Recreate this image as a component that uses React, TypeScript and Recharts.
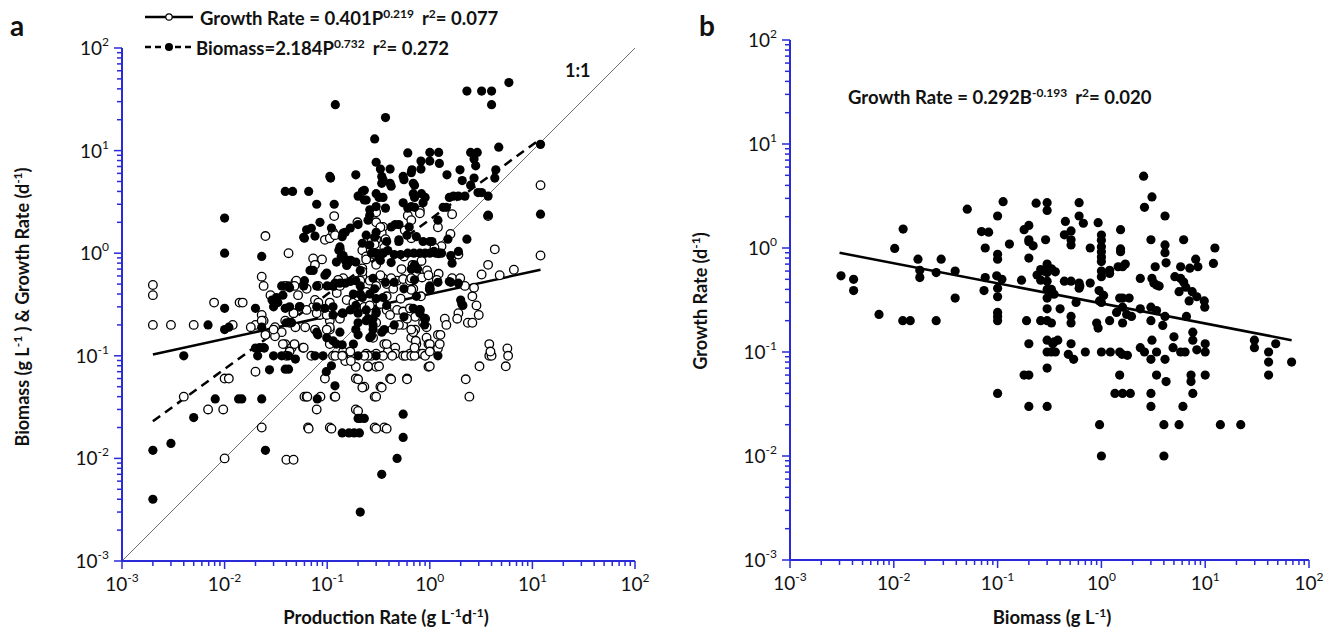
import { ScatterChart, Scatter, XAxis, YAxis, ReferenceLine } from 'recharts';

const BLUE = '#2a2ad8';
const FONT = 'Lato, "Open Sans", sans-serif';

// log axis ticks: decades plus 2..9 minor marks
const MAJOR_TICKS = [0.001, 0.01, 0.1, 1, 10, 100];
const MINOR_STEPS = [2, 3, 4, 5, 6, 7, 8, 9];
const LOG_TICKS = [
  ...MAJOR_TICKS,
  ...MAJOR_TICKS.slice(0, -1).flatMap((d) => MINOR_STEPS.map((m) => +(m * d).toPrecision(3))),
];

// panel a, open circles: growth rate (d-1) vs production rate
const growthA: [number, number][] = [
  [0.002, 0.49], [0.002, 0.39], [0.002, 0.2], [0.003, 0.2], [0.005, 0.2], [0.0079, 0.33], [0.014, 0.33], [0.015, 0.33],
  [0.025, 1.47], [0.042, 1.0], [0.023, 0.59], [0.024, 0.48], [0.028, 0.39], [0.039, 0.48], [0.049, 0.52],
  [0.117, 2.3], [0.197, 2.0], [0.073, 0.89], [0.089, 0.87], [0.076, 0.77], [0.16, 0.81],
  [0.023, 0.25], [0.024, 0.22], [0.02, 0.2], [0.031, 0.19], [0.036, 0.17], [0.031, 0.155], [0.039, 0.13], [0.045, 0.12], [0.058, 0.12],
  [0.052, 0.39], [0.054, 0.3], [0.073, 0.3], [0.076, 0.35], [0.106, 0.33], [0.124, 0.41], [0.085, 0.25], [0.106, 0.22],
  [0.106, 0.18], [0.133, 0.23], [0.047, 0.26], [0.039, 0.22],
  [0.05, 0.54], [0.048, 0.48], [0.063, 0.45], [0.082, 0.48], [0.095, 1.35], [0.106, 1.4], [0.133, 1.07],
  [0.3, 2.0], [0.35, 1.8], [0.34, 1.57], [0.3, 1.35], [0.27, 1.3], [0.57, 1.67], [0.66, 1.4], [0.8, 2.6],
  [0.22, 1.07], [0.24, 0.93], [0.28, 0.98], [0.143, 0.57], [0.128, 0.55], [0.116, 0.48], [0.133, 0.48], [0.22, 0.71],
  [0.22, 0.59], [0.21, 0.54], [0.26, 0.54], [0.3, 0.48], [0.35, 0.57], [0.38, 0.5], [0.38, 0.38], [0.44, 0.45],
  [0.48, 0.54], [0.55, 0.56], [0.64, 0.54], [0.69, 0.45], [0.74, 0.63], [0.94, 0.68], [0.84, 0.58],
  [0.155, 0.35], [0.18, 0.33], [0.23, 0.3], [0.19, 0.29], [0.26, 0.26], [0.33, 0.32], [0.38, 0.28], [0.41, 0.25],
  [0.48, 0.28], [0.55, 0.27], [0.64, 0.29], [0.8, 0.28], [0.72, 0.24], [0.86, 0.21], [0.55, 0.2], [0.72, 0.18],
  [0.66, 0.15], [0.93, 0.15], [0.36, 0.13], [0.46, 0.12], [0.39, 0.11],
  [0.012, 0.2], [0.018, 0.19], [0.023, 0.22], [0.03, 0.18], [0.025, 0.16], [0.043, 0.21], [0.047, 0.26],
  [0.063, 0.28], [0.082, 0.33], [0.079, 0.26], [0.099, 0.25], [0.106, 0.19], [0.099, 0.18], [0.076, 0.18],
  [0.037, 0.13], [0.048, 0.13], [0.106, 0.13], [0.114, 1.6], [0.119, 1.5],
  [0.049, 0.19], [0.061, 0.19], [0.043, 0.11], [0.04, 0.1], [0.059, 0.12], [0.02, 0.07], [0.01, 0.06], [0.011, 0.06],
  [0.0069, 0.03], [0.0097, 0.03], [0.004, 0.04], [0.023, 0.02], [0.06, 0.04], [0.063, 0.04], [0.118, 0.04], [0.079, 0.03],
  [0.065, 0.02], [0.106, 0.02], [0.19, 0.03], [0.29, 0.02], [0.36, 0.02], [0.095, 0.06], [0.143, 0.11], [0.168, 0.11],
  [0.143, 0.1], [0.114, 0.1], [0.19, 0.06], [0.23, 0.05], [0.29, 0.04], [0.33, 0.05], [0.41, 0.06], [0.6, 0.06],
  [0.19, 0.078], [0.25, 0.078], [0.3, 0.078], [0.38, 0.13], [0.46, 0.105], [0.3, 0.105], [0.24, 0.105], [0.27, 0.1],
  [0.55, 0.1], [0.64, 0.105], [0.8, 0.105], [0.97, 0.078], [0.97, 0.13], [0.69, 0.17], [0.6, 0.23], [0.74, 0.13],
  [1.2, 0.16], [1.4, 0.23], [0.9, 0.23],
  [0.01, 0.01], [0.04, 0.0097], [0.047, 0.0097], [0.064, 0.04], [0.086, 0.04], [0.066, 0.0195], [0.11, 0.0195],
  [0.12, 0.04], [0.2, 0.059], [0.22, 0.049], [0.2, 0.029], [0.3, 0.04], [0.34, 0.049], [0.3, 0.0195], [0.38, 0.0195],
  [0.25, 0.079], [0.32, 0.079], [0.42, 0.059], [0.6, 0.059], [0.15, 0.089], [0.17, 0.089],
  [1.0, 0.079], [3.05, 0.079], [5.5, 0.079], [2.24, 0.059], [2.43, 0.04], [3.8, 0.13], [3.8, 0.1], [4.0, 0.1], [5.7, 0.118],
  [1.27, 0.16], [1.2, 0.118], [1.0, 0.13], [0.73, 0.14], [0.85, 0.105], [0.9, 0.1], [0.58, 0.1], [0.66, 0.1], [0.71, 0.1],
  [0.43, 0.1], [0.35, 0.1], [0.25, 0.1], [0.23, 0.1], [0.12, 0.1], [0.14, 0.1], [0.07, 0.1],
  [12, 4.6], [12, 0.95], [3.7, 2.3], [4.3, 1.09], [3.7, 0.77], [3.2, 0.62], [4.8, 0.61], [6.6, 0.69], [1.65, 2.4],
  [1.2, 1.79], [1.59, 1.54], [0.61, 2.33], [0.66, 2.1], [0.8, 2.45], [0.3, 2.5], [0.33, 1.79], [0.37, 1.37], [0.29, 1.22],
  [0.36, 1.13], [1.3, 1.17], [1.64, 0.93], [1.9, 0.97], [0.56, 0.93], [0.68, 0.77], [0.53, 0.7], [0.83, 0.84], [0.97, 0.61],
  [1.22, 0.63], [1.65, 0.57], [1.98, 0.57], [2.2, 0.48], [2.7, 0.46], [2.6, 0.38], [2.85, 0.31], [3.0, 0.25], [1.9, 0.26],
  [1.85, 0.23], [2.35, 0.21], [2.6, 0.21], [3.9, 0.11], [5.8, 0.1], [1.45, 0.2], [1.25, 0.13], [1.0, 0.11], [0.71, 0.12],
  [0.93, 0.19], [0.66, 0.18], [0.5, 0.2], [0.43, 0.18], [0.3, 0.21], [0.28, 0.15], [0.26, 0.31], [0.2, 0.38], [0.24, 0.42],
  [0.52, 0.36], [0.66, 0.44], [0.82, 0.38], [1.0, 0.45], [1.17, 0.55], [0.42, 0.57], [0.66, 0.57], [0.33, 0.61],
  [0.3, 0.77], [0.24, 0.87], [0.22, 0.66], [1.22, 1.0], [1.11, 1.13],
];

// panel a, filled circles: biomass (g L-1) vs production rate
const biomassA: [number, number][] = [
  [0.12, 28], [0.37, 21], [2.3, 38], [3.2, 38], [4.0, 38], [4.0, 28], [5.9, 46],
  [0.29, 13], [0.61, 9.5], [1.0, 9.6], [1.22, 9.6], [2.5, 9.6], [2.9, 9.6], [4.7, 10.8],
  [0.3, 7.7], [0.82, 7.9], [1.0, 7.9], [1.24, 7.5], [2.7, 8.3], [2.8, 7.1],
  [0.33, 6.6], [0.41, 6.6], [0.67, 6.5], [0.82, 6.6], [1.47, 5.8], [1.97, 6.5], [2.07, 5.1], [2.7, 5.4], [4.4, 6.5],
  [4.3, 5.4], [12, 11.5], [0.35, 5.2], [0.42, 4.5], [0.56, 5.2], [0.71, 4.6], [2.5, 4.6], [2.95, 3.9], [3.2, 3.9], [3.7, 3.6],
  [0.22, 4.0], [0.23, 3.3], [0.32, 3.5], [0.37, 2.75], [0.71, 3.5], [0.9, 3.5], [1.7, 3.6], [1.9, 3.6], [2.2, 3.6], [1.55, 3.5],
  [1.35, 2.8], [1.45, 2.8], [1.2, 2.1], [3.7, 2.35], [0.71, 2.8], [0.61, 2.75], [0.26, 2.35], [0.25, 2.1],
  [0.5, 1.9], [0.42, 1.8], [0.63, 1.8], [0.29, 1.43], [0.38, 1.3], [0.5, 1.3], [1.0, 1.3], [1.05, 1.3], [1.5, 1.37], [2.3, 1.37],
  [0.61, 1.0], [0.7, 1.0], [0.8, 1.0], [0.9, 1.0], [1.0, 1.0], [1.15, 1.0], [1.3, 1.0], [1.6, 0.95],
  [0.27, 1.0], [0.3, 1.0], [0.35, 1.0], [0.45, 0.97], [0.52, 0.97], [0.42, 0.81], [0.71, 0.77],
  [0.37, 0.52], [0.45, 0.52], [0.28, 0.57], [0.76, 0.7], [1.0, 0.48], [1.2, 0.52], [1.6, 0.52], [2.05, 0.32], [2.0, 0.35],
  [0.69, 0.29], [0.8, 0.28], [0.56, 0.24], [0.2, 0.26], [0.24, 0.22], [0.28, 0.2], [0.28, 0.18], [0.34, 0.17], [12, 2.4],
  [0.108, 5.4], [0.19, 5.8], [0.039, 4], [0.046, 4], [0.066, 4], [0.01, 2.2], [0.01, 1.0], [0.079, 3.0], [0.117, 3.0],
  [0.085, 2.0], [0.11, 1.76], [0.076, 1.47], [0.059, 1.43], [0.063, 1.69], [0.143, 1.57], [0.168, 1.76], [0.2, 1.9],
  [0.133, 1.15], [0.143, 0.95], [0.16, 0.85], [0.023, 0.93], [0.073, 0.68], [0.099, 0.64],
  [0.036, 0.48], [0.042, 0.48], [0.059, 0.48], [0.079, 0.48], [0.1, 0.48], [0.114, 0.48], [0.168, 0.53],
  [0.01, 0.29], [0.02, 0.29], [0.03, 0.3], [0.033, 0.33], [0.039, 0.29], [0.079, 0.3], [0.095, 0.29], [0.114, 0.3],
  [0.14, 0.26], [0.114, 0.25], [0.0069, 0.2], [0.01, 0.18], [0.011, 0.19], [0.023, 0.19], [0.04, 0.21], [0.045, 0.21],
  [0.079, 0.17], [0.114, 0.14], [0.133, 0.17], [0.19, 0.18], [0.022, 0.12], [0.024, 0.12],
  [0.106, 5.6], [0.34, 5.6], [0.55, 5.6], [0.66, 6.1], [0.34, 4.8], [0.41, 4.8], [0.69, 4.8],
  [0.2, 3.6], [0.23, 4.1], [0.3, 3.8], [0.35, 3.5], [0.69, 3.8], [0.83, 3.8], [0.24, 3.3], [0.26, 2.65], [0.3, 2.85],
  [0.55, 3.1], [0.66, 2.85], [0.86, 3.1], [0.07, 1.75], [0.06, 1.4], [0.15, 1.6], [0.14, 1.45],
  [0.3, 1.6], [0.24, 1.5], [0.22, 1.25], [0.26, 1.2], [0.31, 0.99], [0.33, 0.85], [0.35, 1.0], [0.39, 1.06],
  [0.46, 1.9], [0.6, 1.5], [0.5, 1.35], [0.74, 1.45], [0.86, 1.3],
  [0.123, 0.82], [0.137, 0.93], [0.15, 0.85], [0.17, 0.85], [0.19, 0.82], [0.21, 0.68], [0.155, 0.76], [0.13, 1.07],
  [0.068, 0.68], [0.095, 0.61], [0.119, 0.51], [0.133, 0.51], [0.15, 0.51], [0.19, 0.54], [0.21, 0.48], [0.18, 0.4],
  [0.21, 0.4], [0.22, 0.37], [0.26, 0.4], [0.29, 0.45], [0.3, 0.36], [0.35, 0.37], [0.38, 0.31],
  [0.043, 0.46], [0.037, 0.39], [0.032, 0.37], [0.029, 0.35], [0.06, 0.54], [0.054, 0.3], [0.043, 0.3],
  [0.099, 0.15], [0.123, 0.13], [0.143, 0.26], [0.168, 0.28], [0.19, 0.31], [0.24, 0.28], [0.28, 0.23], [0.3, 0.26], [0.18, 0.13],
  [0.004, 0.1], [0.002, 0.012], [0.002, 0.004], [0.003, 0.014], [0.005, 0.025], [0.0081, 0.038], [0.0137, 0.038],
  [0.0147, 0.038], [0.023, 0.038], [0.025, 0.012], [0.0274, 0.073], [0.02, 0.119], [0.0244, 0.119], [0.021, 0.1],
  [0.03, 0.1], [0.036, 0.1], [0.042, 0.1], [0.049, 0.093], [0.039, 0.074], [0.042, 0.074], [0.081, 0.16], [0.08, 0.038],
  [0.076, 0.1], [0.091, 0.1], [0.098, 0.07], [0.11, 0.08], [0.119, 0.051], [0.14, 0.128],
  [0.14, 0.0177], [0.163, 0.0177], [0.183, 0.0177], [0.206, 0.0177], [0.2, 0.0245], [0.21, 0.0245], [0.23, 0.0245],
  [0.21, 0.003], [0.2, 0.16], [0.2, 0.1], [0.27, 0.156], [0.3, 0.1], [0.34, 0.007], [0.48, 0.01], [0.55, 0.027],
  [0.55, 0.016], [1.2, 0.1],
  [1.65, 0.8], [1.9, 1.04], [1.55, 0.53], [1.9, 0.51], [1.1, 1.04], [0.66, 0.7], [0.71, 0.55], [0.56, 0.45], [0.74, 0.38],
  [1.0, 0.44], [0.8, 0.26], [0.89, 0.23], [0.89, 0.2], [0.3, 0.27], [0.25, 0.23], [0.2, 0.21], [0.36, 0.18], [0.45, 0.2],
  [0.26, 0.15], [2.1, 0.31],
];

// panel b: growth rate (d-1) vs biomass (g L-1)
const growthB: [number, number][] = [
  [0.0031, 0.54], [0.0041, 0.5], [0.0041, 0.39], [0.0072, 0.23], [0.0122, 0.2], [0.0144, 0.2], [0.0256, 0.2],
  [0.0102, 0.99], [0.0123, 1.52], [0.0171, 0.78], [0.0178, 0.61], [0.0178, 0.52], [0.0256, 0.58], [0.0286, 0.78],
  [0.039, 0.6], [0.039, 0.33], [0.051, 2.36], [0.07, 1.44], [0.082, 1.42], [0.076, 1.0], [0.074, 0.39], [0.076, 0.52],
  [0.1, 2.03], [0.113, 2.79], [0.1, 0.87], [0.1, 0.78], [0.098, 0.54], [0.11, 0.5], [0.1, 0.41], [0.1, 0.34],
  [0.1, 0.24], [0.1, 0.22], [0.1, 0.2], [0.1, 0.04], [0.13, 1.09], [0.17, 0.49], [0.18, 1.5], [0.2, 1.65], [0.2, 1.2],
  [0.2, 1.15], [0.22, 1.05], [0.2, 0.8], [0.235, 2.7], [0.3, 2.73], [0.3, 2.3], [0.29, 1.2],
  [0.24, 0.55], [0.26, 0.62], [0.3, 0.7], [0.3, 0.58], [0.33, 0.62], [0.26, 0.49], [0.3, 0.4], [0.33, 0.4], [0.3, 0.33],
  [0.3, 0.26], [0.19, 0.2], [0.26, 0.2], [0.3, 0.2], [0.33, 0.19], [0.2, 0.12], [0.3, 0.13], [0.3, 0.1], [0.33, 0.1],
  [0.35, 0.125], [0.3, 0.07], [0.18, 0.06], [0.2, 0.06], [0.2, 0.03], [0.3, 0.03],
  [0.61, 2.73], [0.61, 2.03], [0.67, 1.73], [0.45, 1.8], [0.51, 1.46], [0.44, 1.34], [0.51, 1.2], [0.51, 1.07],
  [0.78, 1.0], [0.93, 1.75], [1.0, 1.33], [1.0, 1.19], [1.0, 1.03], [1.0, 0.92], [1.0, 0.82], [1.0, 0.74], [1.0, 0.6],
  [1.0, 0.53], [1.2, 0.61], [1.2, 0.57], [1.53, 1.5], [1.53, 0.98], [1.53, 0.92], [1.45, 0.66], [1.6, 0.66], [1.7, 0.7],
  [2.37, 0.51], [2.55, 4.9], [3.07, 3.1], [2.6, 2.46], [4.1, 2.03], [3.0, 1.2], [4.1, 1.07], [4.1, 0.9], [4.2, 0.72],
  [6.2, 1.2], [12.4, 1.0], [12, 0.71], [8.1, 0.78], [8.5, 0.66], [7.1, 0.64], [5.8, 0.66], [3.07, 0.51], [3.2, 0.46],
  [3.4, 0.44], [3.6, 0.43], [3.3, 0.66], [5.1, 0.53], [5.8, 0.51], [6.2, 0.47], [6.5, 0.42], [5.6, 0.38], [7.5, 0.38],
  [7.0, 0.31], [8.3, 0.34], [9.8, 0.31], [9.9, 0.27], [2.37, 0.26], [3.0, 0.27], [3.4, 0.25], [4.1, 0.22], [3.9, 0.18],
  [3.0, 0.2], [6.6, 0.22], [1.6, 0.27], [1.75, 0.23], [1.95, 0.22], [1.5, 0.33], [1.6, 0.33], [1.85, 0.33], [1.4, 0.24],
  [1.2, 0.2], [1.6, 0.19], [0.95, 0.39], [1.05, 0.35], [1.0, 0.3], [0.96, 0.31], [0.78, 0.46], [0.61, 0.41], [0.57, 0.3],
  [0.51, 0.22], [0.51, 0.19], [0.4, 0.26], [0.28, 0.6], [0.33, 0.63], [0.36, 0.59], [0.3, 0.48], [0.35, 0.36],
  [0.44, 0.48], [0.51, 0.48], [0.61, 0.46], [0.62, 0.43], [0.9, 0.19], [0.93, 0.17],
  [0.34, 0.12], [0.38, 0.13], [0.36, 0.1], [0.51, 0.12], [0.48, 0.095], [0.54, 0.085], [0.7, 0.1], [1.0, 0.1],
  [1.22, 0.1], [1.5, 0.1], [1.58, 0.095], [1.78, 0.093], [2.37, 0.11], [2.6, 0.1], [3.07, 0.13], [3.4, 0.1], [3.0, 0.085],
  [4.1, 0.085], [5.0, 0.14], [4.9, 0.11], [5.8, 0.1], [6.4, 0.1], [7.6, 0.155], [7.6, 0.13], [8.3, 0.105], [10, 0.12],
  [10, 0.1], [1.5, 0.06], [3.4, 0.06], [4.2, 0.052], [7.3, 0.06], [7.3, 0.052], [10, 0.06], [1.35, 0.04], [1.6, 0.04],
  [1.9, 0.04], [3.0, 0.04], [7.6, 0.04], [3.0, 0.03], [6.1, 0.03], [0.96, 0.02], [4.0, 0.02], [5.6, 0.02], [14, 0.02],
  [22, 0.02], [1.0, 0.01], [4.0, 0.01], [29.8, 0.13], [29.8, 0.11], [47.8, 0.12], [40.8, 0.1], [40.8, 0.08],
  [40.8, 0.06], [68, 0.08],
];

// fitted lines, end points
const ONE_TO_ONE: [number, number][] = [[0.001, 0.001], [100, 100]];
const GROWTH_FIT_A: [number, number][] = [[0.002, 0.103], [12, 0.69]];
const BIOMASS_FIT_A: [number, number][] = [[0.002, 0.023], [12, 13]];
const GROWTH_FIT_B: [number, number][] = [[0.003, 0.9], [68, 0.13]];

const toPts = (arr: [number, number][]) => arr.map(([x, y]) => ({ x, y }));

const isMajor = (v: number) => {
  const l = Math.log10(v);
  return Math.abs(l - Math.round(l)) < 1e-6;
};

const XTick = (props: any) => {
  const { x, y, payload } = props;
  const v = payload.value;
  const major = isMajor(v);
  return (
    <g>
      <line x1={x} x2={x} y1={y} y2={y + (major ? 8 : 5)} stroke={BLUE} strokeWidth={1.5} />
      {major && (
        <text x={x} y={y + 30} textAnchor="middle" fontFamily={FONT} fontSize={19} fill="#111">
          10<tspan dy={-9} fontSize={12}>{Math.round(Math.log10(v))}</tspan>
        </text>
      )}
    </g>
  );
};

const YTick = (props: any) => {
  const { x, y, payload } = props;
  const v = payload.value;
  const major = isMajor(v);
  return (
    <g>
      <line x1={x - (major ? 8 : 5)} x2={x} y1={y} y2={y} stroke={BLUE} strokeWidth={1.5} />
      {major && (
        <text x={x - 13} y={y + 7} textAnchor="end" fontFamily={FONT} fontSize={19} fill="#111">
          10<tspan dy={-9} fontSize={12}>{Math.round(Math.log10(v))}</tspan>
        </text>
      )}
    </g>
  );
};

const Filled = (p: any) => <circle cx={p.cx} cy={p.cy} r={4.6} fill="#000" />;
const Open = (p: any) => <circle cx={p.cx} cy={p.cy} r={4.3} fill="#fff" stroke="#000" strokeWidth={1.3} />;

const axisProps = {
  type: 'number' as const,
  scale: 'log' as const,
  domain: [0.001, 100],
  allowDataOverflow: true,
  ticks: LOG_TICKS,
  interval: 0 as const,
  tickLine: false,
  tickSize: 0,
  tickMargin: 0,
  axisLine: { stroke: BLUE, strokeWidth: 2 },
};

const Sup = ({ children }: { children: string }) => (
  <tspan dy={-7} fontSize={12}>{children}</tspan>
);

export default function App() {
  return (
    <div style={{ position: 'absolute', left: 0, top: 0, width: 1338, height: 632, background: '#fff' }}>
      <div style={{ position: 'absolute', left: 0, top: 0 }}>
        <ScatterChart width={660} height={632} margin={{ top: 48, right: 25, bottom: 21, left: 62 }}>
          <XAxis {...axisProps} dataKey="x" height={50} tick={(p: any) => <XTick {...p} />} />
          <YAxis {...axisProps} dataKey="y" width={60} tick={(p: any) => <YTick {...p} />} />
          <ReferenceLine segment={toPts(ONE_TO_ONE)} stroke="#707070" strokeWidth={1} />
          <Scatter data={toPts(growthA)} shape={Open} isAnimationActive={false} />
          <Scatter data={toPts(biomassA)} shape={Filled} isAnimationActive={false} />
          <ReferenceLine segment={toPts(GROWTH_FIT_A)} stroke="#000" strokeWidth={2.5} />
          <ReferenceLine segment={toPts(BIOMASS_FIT_A)} stroke="#000" strokeWidth={2.5} strokeDasharray="9 6" />
        </ScatterChart>
      </div>
      <div style={{ position: 'absolute', left: 680, top: 0 }}>
        <ScatterChart width={658} height={632} margin={{ top: 40, right: 29, bottom: 22, left: 50 }}>
          <XAxis {...axisProps} dataKey="x" height={50} tick={(p: any) => <XTick {...p} />} />
          <YAxis {...axisProps} dataKey="y" width={60} tick={(p: any) => <YTick {...p} />} />
          <Scatter data={toPts(growthB)} shape={Filled} isAnimationActive={false} />
          <ReferenceLine segment={toPts(GROWTH_FIT_B)} stroke="#000" strokeWidth={2.5} />
        </ScatterChart>
      </div>
      <svg width={1338} height={632} style={{ position: 'absolute', left: 0, top: 0, pointerEvents: 'none' }}>
        <g fontFamily={FONT} fill="#111">
          <text x={10} y={36} fontSize={28} fontWeight={700}>a</text>
          <text x={699} y={36} fontSize={28} fontWeight={700}>b</text>

          <line x1={145} x2={193} y1={17} y2={17} stroke="#000" strokeWidth={2.5} />
          <circle cx={169} cy={17} r={3.2} fill="#fff" stroke="#000" strokeWidth={1.2} />
          <text x={200} y={25} fontSize={18.5} fontWeight={700}>
            Growth Rate = 0.401P<Sup>0.219</Sup>
            <tspan dy={7} dx={8}>r</tspan>
            <Sup>2</Sup>
            <tspan dy={7}>= 0.077</tspan>
          </text>

          <line x1={145} x2={193} y1={47} y2={47} stroke="#000" strokeWidth={2.5} strokeDasharray="6 4" />
          <circle cx={169} cy={47} r={4} fill="#000" />
          <text x={196} y={55} fontSize={18.5} fontWeight={700}>
            Biomass=2.184P<Sup>0.732</Sup>
            <tspan dy={7} dx={8}>r</tspan>
            <Sup>2</Sup>
            <tspan dy={7}>= 0.272</tspan>
          </text>

          <text x={565} y={77} fontSize={18} fontWeight={700}>1:1</text>

          <text x={848} y={104} fontSize={18.5} fontWeight={700}>
            Growth Rate = 0.292B<Sup>-0.193</Sup>
            <tspan dy={7} dx={8}>r</tspan>
            <Sup>2</Sup>
            <tspan dy={7}>= 0.020</tspan>
          </text>

          <text x={386} y={624} textAnchor="middle" fontSize={18.5} fontWeight={700}>
            Production Rate (g L<Sup>-1</Sup><tspan dy={7}>d</tspan><Sup>-1</Sup><tspan dy={7}>)</tspan>
          </text>
          <text x={1052} y={624} textAnchor="middle" fontSize={18.5} fontWeight={700}>
            Biomass (g L<Sup>-1</Sup><tspan dy={7}>)</tspan>
          </text>
          <text transform="translate(29 307) rotate(-90)" textAnchor="middle" fontSize={18} fontWeight={700}>
            Biomass (g L<Sup>-1</Sup><tspan dy={7}> ) &amp; Growth Rate (d</tspan><Sup>-1</Sup><tspan dy={7}>)</tspan>
          </text>
          <text transform="translate(707 301) rotate(-90)" textAnchor="middle" fontSize={18} fontWeight={700}>
            Growth Rate (d<Sup>-1</Sup><tspan dy={7}>)</tspan>
          </text>
        </g>
      </svg>
    </div>
  );
}
